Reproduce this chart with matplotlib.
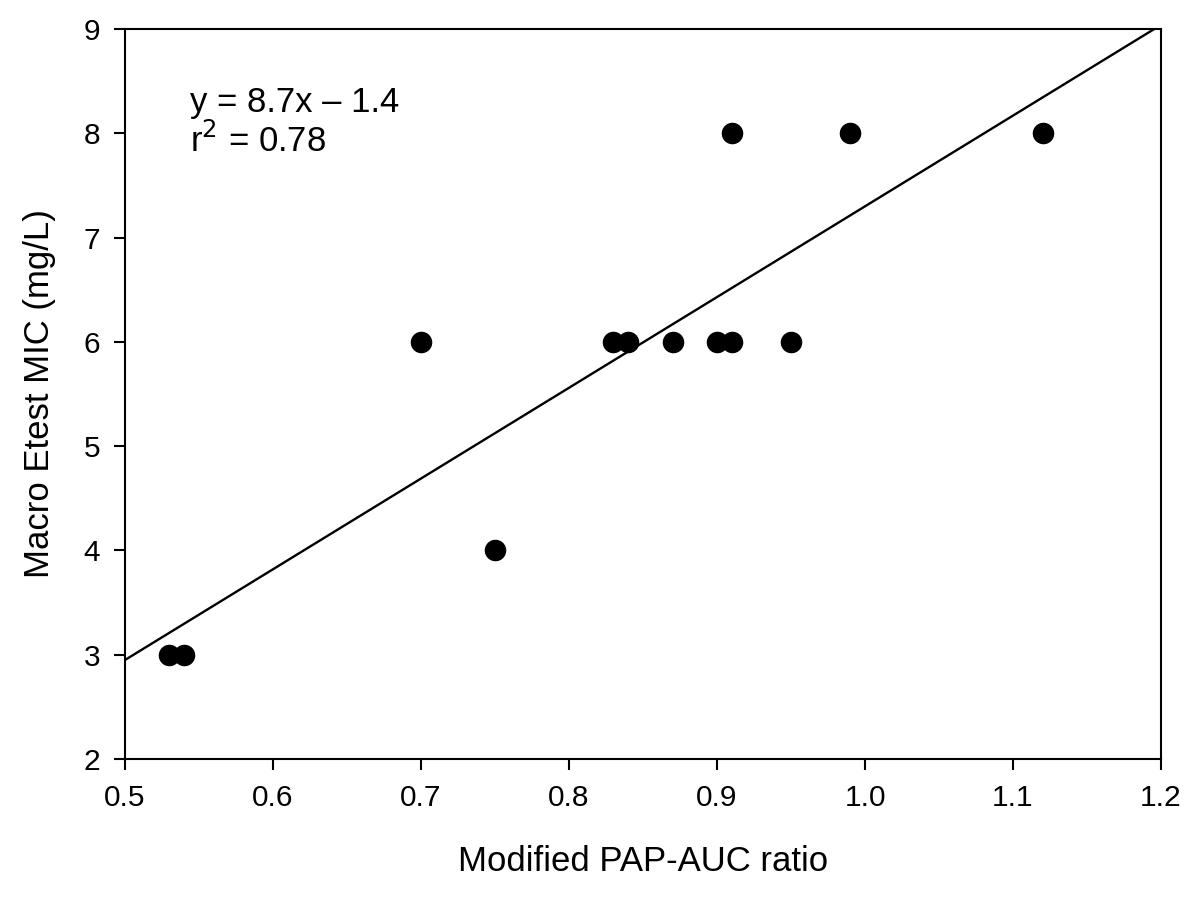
import numpy as np
import matplotlib
matplotlib.use('Agg')
import matplotlib.pyplot as plt

plt.rcParams['font.family'] = ['Liberation Sans', 'DejaVu Sans']

# Dati: rapporto PAP-AUC modificato vs MIC Etest
pap_auc = [0.53, 0.54, 0.70, 0.75, 0.83, 0.84, 0.87, 0.90, 0.91, 0.95, 0.91, 0.99, 1.12]
mic = [3, 3, 6, 4, 6, 6, 6, 6, 6, 6, 8, 8, 8]

# Retta di regressione riportata
slope = 8.7
intercept = -1.4
fit_x = [0.5, 1.2]

x_ticks = [0.5, 0.6, 0.7, 0.8, 0.9, 1.0, 1.1, 1.2]
y_ticks = [2, 3, 4, 5, 6, 7, 8, 9]

fig = plt.figure(figsize=(12, 9.02), dpi=100)
ax = fig.add_axes([0.1042, 0.1585, 0.8633, 0.8093])

fx = np.array(fit_x)
ax.plot(fx, slope * fx + intercept, color='black', lw=1.7)
ax.plot(pap_auc, mic, 'o', color='black', markersize=14.5)

ax.set_xlim(0.5, 1.2)
ax.set_ylim(2, 9)
ax.set_xticks(x_ticks)
ax.set_xticklabels([f"{v:.1f}" for v in x_ticks])
ax.set_yticks(y_ticks)
ax.tick_params(direction='out', length=8, width=1.5, labelsize=21.5, pad=10)
for s in ax.spines.values():
    s.set_linewidth(1.5)

ax.set_xlabel('Modified PAP-AUC ratio', fontsize=25, labelpad=24)
ax.set_ylabel('Macro Etest MIC (mg/L)', fontsize=25, labelpad=20)

ax.text(0.544, 8.3, 'y = 8.7x \u2013 1.4', fontsize=25, va='center')
ax.text(0.544, 7.93, 'r$^2$ = 0.78', fontsize=25, va='center')

plt.savefig('out.png', dpi=100)
plt.close()
